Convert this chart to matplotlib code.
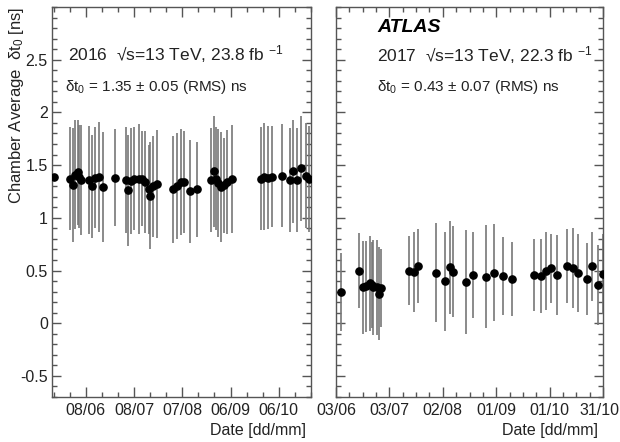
import matplotlib
matplotlib.use('Agg')
import matplotlib.pyplot as plt
import matplotlib.dates as mdates
import matplotlib.transforms as mtransforms
from matplotlib.ticker import FixedLocator, MultipleLocator, FixedFormatter, NullFormatter
import numpy as np

plt.rcParams['font.family'] = ['Liberation Sans', 'DejaVu Sans']
plt.rcParams['mathtext.fontset'] = 'custom'
plt.rcParams['mathtext.rm'] = 'Liberation Sans'
plt.rcParams['mathtext.it'] = 'Liberation Sans:italic'
plt.rcParams['mathtext.bf'] = 'Liberation Sans:bold'

# ---------------- data ----------------
dates_2016 = [
    "2016-05-19",
    "2016-05-29", "2016-05-31", "2016-06-01", "2016-06-03", "2016-06-04", "2016-06-05",
    "2016-06-10", "2016-06-12", "2016-06-14", "2016-06-16", "2016-06-19",
    "2016-06-26",
    "2016-07-03", "2016-07-04", "2016-07-06", "2016-07-08", "2016-07-11", "2016-07-13",
    "2016-07-15", "2016-07-17", "2016-07-18", "2016-07-20", "2016-07-22",
    "2016-08-01", "2016-08-04", "2016-08-06", "2016-08-08", "2016-08-12", "2016-08-16",
    "2016-08-25", "2016-08-27", "2016-08-28", "2016-08-29", "2016-08-31", "2016-09-02",
    "2016-09-04", "2016-09-07",
    "2016-09-25", "2016-09-27", "2016-09-29", "2016-10-02",
    "2016-10-08", "2016-10-13", "2016-10-15", "2016-10-17", "2016-10-20", "2016-10-23",
    "2016-10-25",
]
values_2016 = [
    1.39,
    1.37, 1.31, 1.41, 1.43, 1.39, 1.36,
    1.36, 1.30, 1.38, 1.39, 1.29,
    1.38,
    1.36, 1.26, 1.35, 1.37, 1.37, 1.37,
    1.34, 1.27, 1.21, 1.30, 1.32,
    1.27, 1.30, 1.34, 1.34, 1.25, 1.27,
    1.36, 1.44, 1.37, 1.33, 1.29, 1.31,
    1.34, 1.37,
    1.37, 1.39, 1.38, 1.39,
    1.40, 1.36, 1.44, 1.36, 1.47, 1.40,
    1.37,
]
errors_2016 = [
    0.0,
    0.49, 0.54, 0.52, 0.50, 0.49, 0.52,
    0.51, 0.49, 0.48, 0.52, 0.52,
    0.46,
    0.50, 0.53, 0.50, 0.49, 0.52, 0.45,
    0.48, 0.42, 0.51, 0.48, 0.51,
    0.51, 0.50, 0.50, 0.48, 0.49, 0.45,
    0.49, 0.53, 0.49, 0.51, 0.52, 0.45,
    0.49, 0.51,
    0.49, 0.51, 0.49, 0.48,
    0.49, 0.49, 0.49, 0.49, 0.50, 0.50,
    0.50,
]

dates_2017 = [
    "2017-06-06", "2017-06-16",
    "2017-06-18", "2017-06-20", "2017-06-22", "2017-06-23", "2017-06-24", "2017-06-26",
    "2017-06-27", "2017-06-28",
    "2017-07-14", "2017-07-17", "2017-07-19", "2017-07-29",
    "2017-08-03", "2017-08-06", "2017-08-08", "2017-08-15", "2017-08-19", "2017-08-26",
    "2017-08-31", "2017-09-05", "2017-09-10",
    "2017-09-22", "2017-09-26", "2017-09-29", "2017-10-02", "2017-10-05",
    "2017-10-11", "2017-10-14", "2017-10-17", "2017-10-22", "2017-10-25", "2017-10-28",
    "2017-10-31",
]
values_2017 = [
    0.30, 0.50,
    0.34, 0.35, 0.38, 0.36, 0.34, 0.34,
    0.28, 0.33,
    0.50, 0.49, 0.54, 0.48,
    0.40, 0.53, 0.49, 0.39, 0.46, 0.44,
    0.48, 0.45, 0.42,
    0.46, 0.45, 0.50, 0.52, 0.46,
    0.54, 0.52, 0.48, 0.42, 0.54, 0.36,
    0.47,
]
errors_2017 = [
    0.37, 0.36,
    0.44, 0.43, 0.45, 0.41, 0.45, 0.45,
    0.44, 0.37,
    0.33, 0.38, 0.35, 0.47,
    0.47, 0.44, 0.43, 0.49, 0.41, 0.49,
    0.46, 0.37, 0.35,
    0.34, 0.35, 0.37, 0.33, 0.38,
    0.35, 0.38, 0.37, 0.34, 0.33, 0.38,
    0.38,
]

xlim_2016 = ("2016-05-18", "2016-10-26")
xlim_2017 = ("2017-06-03", "2017-10-31")
xticks_2016 = ["2016-06-08", "2016-07-08", "2016-08-07", "2016-09-06", "2016-10-06"]
xticks_2017 = ["2017-06-03", "2017-07-03", "2017-08-02", "2017-09-01", "2017-10-01", "2017-10-31"]
yticks = [-0.5, 0, 0.5, 1, 1.5, 2, 2.5]
ytick_labels = ["-0.5", "0", "0.5", "1", "1.5", "2", "2.5"]

# ---------------- figure ----------------
W, H = 620, 442
fig = plt.figure(figsize=(W / 100, H / 100), dpi=100)

def ax_rect(x0, x1, ytop, ybot):
    return [x0 / W, 1 - ybot / H, (x1 - x0) / W, (ybot - ytop) / H]

axL = fig.add_axes(ax_rect(52, 311, 7, 397))
axR = fig.add_axes(ax_rect(336, 603, 7, 397))

bar_color = '#777777'
spine_color = '#555555'

def draw(ax, dates, vals, errs, xlim, xticks, minor_step, show_ylabels):
    x = mdates.datestr2num(dates)
    ax.errorbar(x, vals, yerr=errs, fmt='none', ecolor=bar_color, elinewidth=1.2,
                capsize=0, zorder=2)
    ax.plot(x, vals, 'o', color='black', markersize=5.2, zorder=3)
    x0, x1 = mdates.datestr2num(list(xlim))
    ax.set_xlim(x0, x1)
    ax.set_ylim(-0.7, 3.0)
    xt = mdates.datestr2num(xticks)
    ax.xaxis.set_major_locator(FixedLocator(xt))
    ax.xaxis.set_major_formatter(mdates.DateFormatter('%d/%m'))
    mt = np.arange(xt[0] - 10 * minor_step, x1 + 0.01, minor_step)
    ax.xaxis.set_minor_locator(FixedLocator(mt))
    ax.yaxis.set_major_locator(FixedLocator(yticks))
    ax.yaxis.set_minor_locator(MultipleLocator(0.1))
    if show_ylabels:
        ax.yaxis.set_major_formatter(FixedFormatter(ytick_labels))
    else:
        ax.yaxis.set_major_formatter(NullFormatter())
    ax.tick_params(axis='both', which='both', direction='in', top=True, right=True,
                   color=spine_color, width=1.0, labelsize=11.5, labelcolor='#222222')
    ax.tick_params(axis='y', which='major', length=6.5, pad=3)
    ax.tick_params(axis='y', which='minor', length=3.3)
    ax.tick_params(axis='x', which='major', length=7.5, pad=4)
    ax.tick_params(axis='x', which='minor', length=3.6)
    for s in ax.spines.values():
        s.set_color(spine_color)
        s.set_linewidth(1.0)

draw(axL, dates_2016, values_2016, errors_2016, xlim_2016, xticks_2016, 10.0, True)
draw(axR, dates_2017, values_2017, errors_2017, xlim_2017, xticks_2017, 7.5, False)

def fx(ax_x0, ax_w, px):
    return (px - ax_x0) / ax_w

def fy(py):
    return (397 - py) / 390

axL.text(fx(52, 259, 68), fy(54), r"2016  √s=13 TeV, 23.8 fb $^{-1}$",
         transform=axL.transAxes, ha='left', va='center', fontsize=12.5, color='#222222')
axL.text(fx(52, 259, 65), fy(87), r"δt$_0$ = 1.35 ± 0.05 (RMS) ns",
         transform=axL.transAxes, ha='left', va='center', fontsize=11, color='#222222')

axR.text(fx(336, 267, 377), fy(27), "ATLAS", transform=axR.transAxes, ha='left',
         va='center', fontsize=14, fontweight='bold', fontstyle='italic', color='black')
axR.text(fx(336, 267, 377), fy(55), r"2017  √s=13 TeV, 22.3 fb $^{-1}$",
         transform=axR.transAxes, ha='left', va='center', fontsize=12.5, color='#222222')
axR.text(fx(336, 267, 377), fy(87), r"δt$_0$ = 0.43 ± 0.07 (RMS) ns",
         transform=axR.transAxes, ha='left', va='center', fontsize=11, color='#222222')

fig.text(17 / W, 1 - 7 / H, r"Chamber Average  δt$_0$ [ns]", rotation=90,
         ha='center', va='top', fontsize=12, color='#222222')
fig.text(306 / W, 1 - 431 / H, "Date [dd/mm]", ha='right', va='center',
         fontsize=11.5, color='#222222')
fig.text(598 / W, 1 - 431 / H, "Date [dd/mm]", ha='right', va='center',
         fontsize=11.5, color='#222222')

# keep the last date label inside the picture, as in the reference
fig.canvas.draw()
last = axR.xaxis.get_major_ticks()[-1].label1
last.set_transform(last.get_transform() +
                   mtransforms.ScaledTranslation(-4 / 100, 0, fig.dpi_scale_trans))

fig.savefig('out.png', dpi=100)
